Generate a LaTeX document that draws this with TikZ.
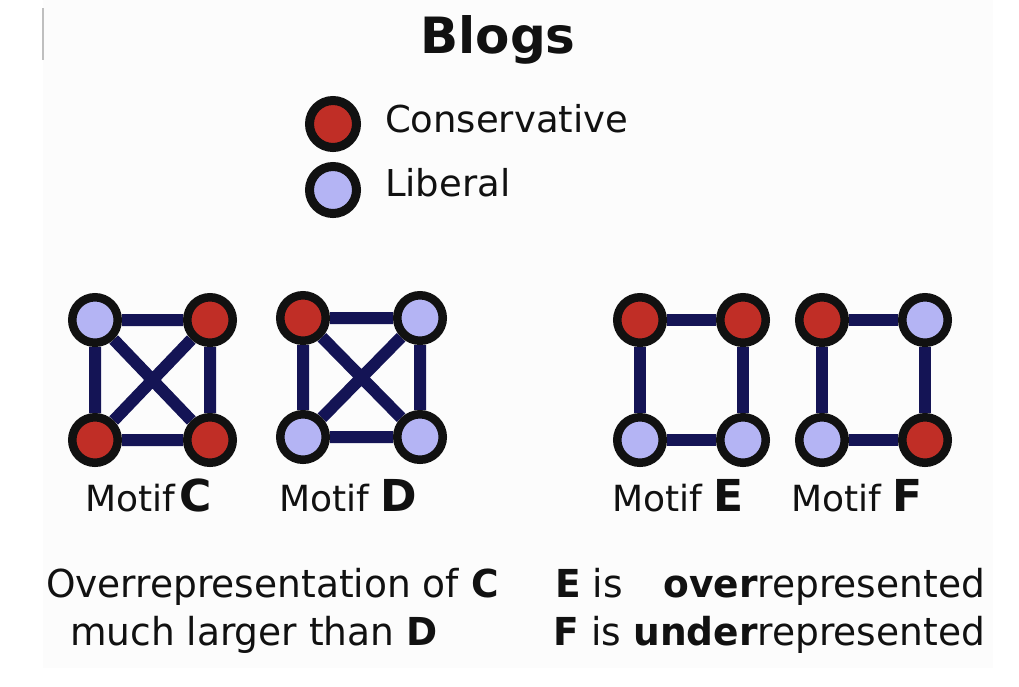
\documentclass[tikz,border=0pt]{standalone}
\usepackage{fontspec}
\usepackage{graphicx}
\setmainfont{DejaVu Sans}
\usetikzlibrary{backgrounds}
\definecolor{consred}{RGB}{192,46,38}
\definecolor{liblav}{RGB}{180,180,244}
\definecolor{edgenavy}{RGB}{20,20,85}
\definecolor{ringblk}{RGB}{17,17,17}
\definecolor{bgpaper}{RGB}{252,252,252}
\newcommand{\motifletter}[1]{{\fontsize{44}{50}\selectfont\bfseries #1}}
\newcommand{\narrowtxt}[1]{\scalebox{0.975}[1]{#1}}
\tikzset{
  vnode/.style={circle, draw=ringblk, line width=8.5pt, minimum size=45.5pt, inner sep=0pt},
  cons/.style={vnode, fill=consred},
  lib/.style={vnode, fill=liblav},
  legcons/.style={cons, line width=9pt, minimum size=47pt},
  leglib/.style={lib, line width=9pt, minimum size=47pt},
  link/.style={draw=edgenavy, line width=12pt},
  txt/.style={inner sep=0pt, outer sep=0pt, text=ringblk},
  bigtxt/.style={txt, font=\fontsize{38.5}{46}\selectfont},
  legtxt/.style={txt, font=\fontsize{37}{44}\selectfont},
  motiftxt/.style={txt, font=\fontsize{36}{42}\selectfont},
}
\begin{document}
\begin{tikzpicture}[x=1pt,y=-1pt]
\useasboundingbox (0,0) rectangle (1019,686);
% title and legend
\node[txt, anchor=base, font=\bfseries\fontsize{50}{60}\selectfont] (title) at (498,53) {Blogs};
\node[legcons] (lc) at (333,124) {};
\node[leglib] (ll) at (333,190) {};
\node[legtxt, anchor=base west] (lct) at (385,132) {Conservative};
\node[legtxt, anchor=base west] (llt) at (385,196) {Liberal};
% Motif C
\node[lib]  (c1) at (95,320) {};
\node[cons] (c2) at (210,320) {};
\node[cons] (c3) at (95,440) {};
\node[cons] (c4) at (210,440) {};
% Motif D
\node[cons] (d1) at (303,318) {};
\node[lib]  (d2) at (420,318) {};
\node[lib]  (d3) at (303,437) {};
\node[lib]  (d4) at (420,437) {};
% Motif E
\node[cons] (e1) at (640,320) {};
\node[cons] (e2) at (743,320) {};
\node[lib]  (e3) at (640,440) {};
\node[lib]  (e4) at (743,440) {};
% Motif F
\node[cons] (f1) at (822,320) {};
\node[lib]  (f2) at (925,320) {};
\node[lib]  (f3) at (822,440) {};
\node[cons] (f4) at (925,440) {};
\begin{scope}[on background layer]
  \fill[bgpaper] (43,0) rectangle (993,668);
  \draw[black!25, line width=1.2pt] (43,8) -- (43,60);
  \draw[link] (c1) -- (c2) (c2) -- (c4) (c4) -- (c3) (c3) -- (c1) (c1) -- (c4) (c2) -- (c3);
  \draw[link] (d1) -- (d2) (d2) -- (d4) (d4) -- (d3) (d3) -- (d1) (d1) -- (d4) (d2) -- (d3);
  \draw[link] (e1) -- (e2) (e2) -- (e4) (e4) -- (e3) (e3) -- (e1);
  \draw[link] (f1) -- (f2) (f2) -- (f4) (f4) -- (f3) (f3) -- (f1);
\end{scope}
% motif labels
\node[motiftxt, anchor=base] (mc) at (149,511) {Motif\hspace{0.12em}\motifletter{C}};
\node[motiftxt, anchor=base] (md) at (348,511) {Motif \motifletter{D}};
\node[motiftxt, anchor=base] (me) at (678,511) {Motif \motifletter{E}};
\node[motiftxt, anchor=base] (mf) at (857,511) {Motif \motifletter{F}};
% bottom texts
\node[bigtxt, anchor=base west] (l1) at (46,597) {\narrowtxt{Overrepresentation of \textbf{C}}};
\node[bigtxt, anchor=base west] (l2) at (70,645) {\narrowtxt{much larger than \textbf{D}}};
\node[bigtxt, anchor=base west] (r1a) at (555,597) {\narrowtxt{\textbf{E} is}};
\node[bigtxt, anchor=base east] (r1b) at (985,597) {\narrowtxt{\textbf{over}represented}};
\node[bigtxt, anchor=base east] (r2) at (985,645) {\narrowtxt{\textbf{F} is \textbf{under}represented}};
\end{tikzpicture}
\end{document}
